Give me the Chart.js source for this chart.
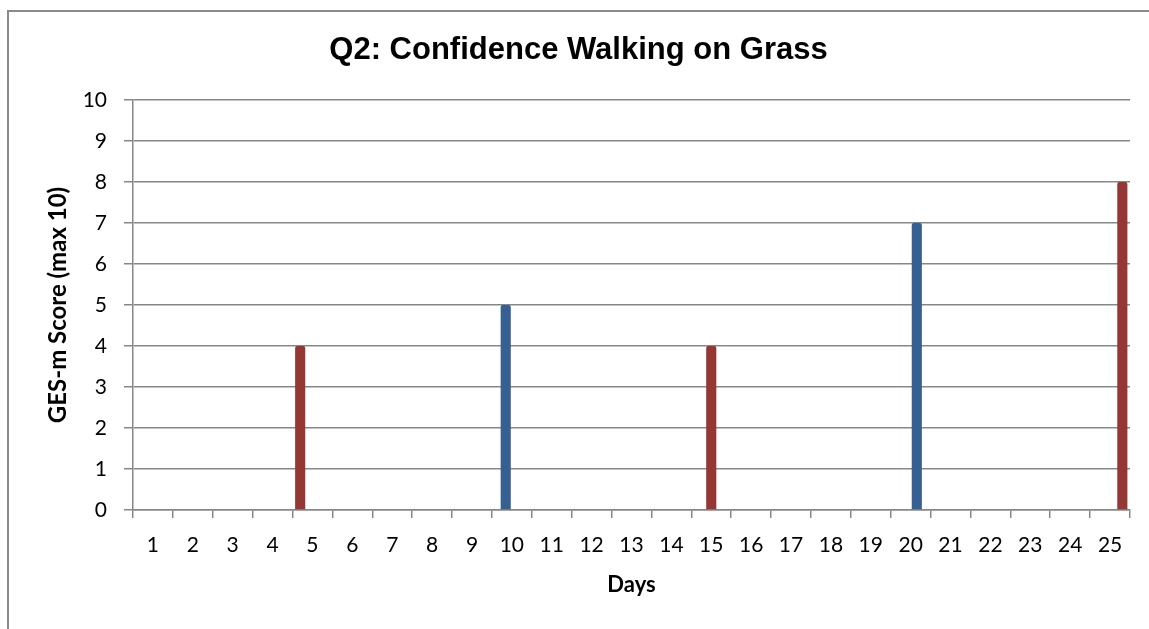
<!DOCTYPE html>
<html>
<head>
<meta charset="utf-8">
<script src="https://cdn.jsdelivr.net/npm/chart.js@4/dist/chart.umd.min.js"></script>
<style>
  html, body { margin: 0; padding: 0; background: #fff; overflow: hidden; }
  #frame {
    position: absolute; left: 7px; top: 10px;
    width: 1200px; height: 700px;
    border: 2px solid #8a8a8a;
    background: #fff;
  }
  #wrap { position: absolute; left: 0; top: 0; width: 1140px; height: 617px; }
</style>
</head>
<body>
<div id="frame">
  <div id="wrap"><canvas id="chart"></canvas></div>
</div>
<script>
"use strict";

// x categories (days)
const days = ['1','2','3','4','5','6','7','8','9','10','11','12','13','14','15',
              '16','17','18','19','20','21','22','23','24','25'];
// one series per measurement, each with a single value
const seriesDays = ['5', '10', '15', '20', '25'];
const seriesScores = [4, 5, 4, 7, 8];
const seriesColors = ['#953735', '#376092', '#953735', '#376092', '#953735'];
const yTicks = [0, 1, 2, 3, 4, 5, 6, 7, 8, 9, 10];

const gridColor = '#878787';
const tickFont = { family: 'Lato, "Liberation Sans", sans-serif', size: 21 };

const datasets = seriesDays.map((day, i) => ({
  label: 'Day ' + day,
  data: days.map(d => d === day ? seriesScores[i] : null),
  backgroundColor: seriesColors[i],
  borderRadius: 2,
  categoryPercentage: 5 / 6.5,
  barPercentage: 1.65,
}));

new Chart(document.getElementById('chart'), {
  type: 'bar',
  data: { labels: days, datasets: datasets },
  options: {
    responsive: true,
    maintainAspectRatio: false,
    animation: false,
    layout: { padding: { left: 18, right: 19, top: 0, bottom: 0 } },
    plugins: {
      legend: { display: false },
      tooltip: { enabled: false },
      title: {
        display: true,
        text: 'Q2: Confidence Walking on Grass',
        color: '#000',
        font: { family: '"Liberation Sans", Arial, sans-serif', size: 31, weight: 'bold' },
        padding: { top: 20, bottom: 30.8 },
      },
    },
    scales: {
      x: {
        offset: true,
        grid: {
          display: true,
          offset: true,
          drawOnChartArea: false,
          drawTicks: true,
          tickLength: 8,
          color: gridColor,
          lineWidth: 1.5,
        },
        border: { display: true, color: gridColor, width: 1.5 },
        ticks: { color: '#000', font: tickFont, padding: 14.6, maxRotation: 0, autoSkip: false },
        title: {
          display: true,
          text: 'Days',
          color: '#000',
          font: { family: 'Lato, "Liberation Sans", sans-serif', size: 22, weight: 'bold' },
          padding: { top: 0, bottom: 30.4 },
        },
        afterFit: (scale) => { scale.height = 119; },
      },
      y: {
        min: 0,
        max: 10,
        afterBuildTicks: (scale) => { scale.ticks = yTicks.map(v => ({ value: v })); },
        grid: {
          color: gridColor,
          lineWidth: 1.5,
          drawTicks: true,
          tickLength: 9,
        },
        border: { display: true, color: gridColor, width: 1.5 },
        ticks: { color: '#000', font: tickFont, padding: 17 },
        title: {
          display: true,
          text: 'GES-m Score (max 10)',
          color: '#000',
          font: { family: 'Lato, "Liberation Sans", sans-serif', size: 24, weight: 'bold' },
          padding: { top: 16.6, bottom: 0 },
        },
        afterFit: (scale) => { scale.width = 106; },
      },
    },
  },
});
</script>
</body>
</html>
